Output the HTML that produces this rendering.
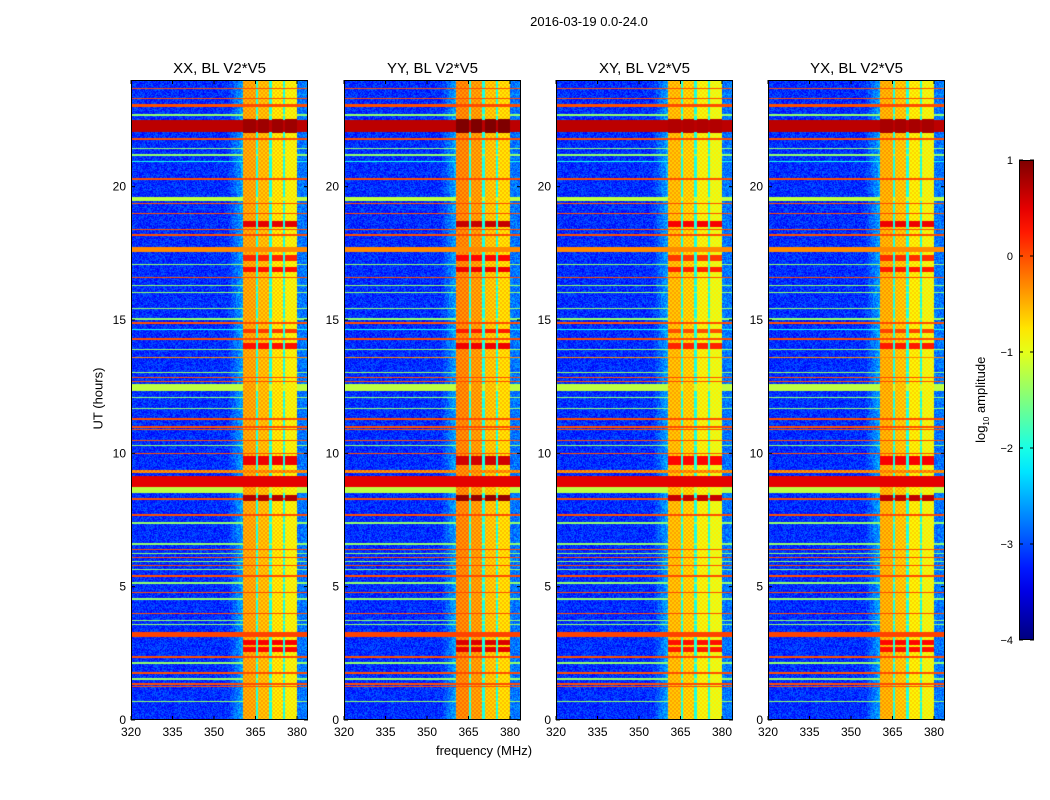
<!DOCTYPE html>
<html><head><meta charset="utf-8">
<style>
body{margin:0;background:#fff;font-family:"Liberation Sans",sans-serif;}
#root{position:relative;width:1050px;height:800px;overflow:hidden;background:#fff;}
canvas{position:absolute;}
.t{position:absolute;color:#000;white-space:nowrap;}
</style></head>
<body>
<div id="root">
<div class="t" style="left:489px;top:14px;width:200px;text-align:center;font-size:13px;">2016-03-19 0.0-24.0</div>
<div class="t" style="left:384px;top:743px;width:200px;text-align:center;font-size:13px;">frequency (MHz)</div>
<div class="t" style="left:48px;top:391px;width:100px;text-align:center;font-size:13px;transform:rotate(-90deg);">UT (hours)</div>
<div class="t" style="left:922px;top:391px;width:120px;text-align:center;font-size:13px;transform:rotate(-90deg);">log<sub style="font-size:8px">10</sub> amplitude</div>
<svg id="svg" width="1050" height="800" style="position:absolute;left:0;top:0;"></svg>
</div>
<script>
// ---- data ----
const panelTitles = ["XX, BL V2*V5","YY, BL V2*V5","XY, BL V2*V5","YX, BL V2*V5"];
const panelLeft = [131,344,556,768];
const panelBlockOffset = [0, 0.15, -0.1, -0.05];
const xTicks = [320,335,350,365,380];
const yTicks = [0,5,10,15,20];
const cbTicks = [1,0,-1,-2,-3,-4];
const backgroundLevel = -3.15;
// column segments: [fStart, fEnd, level]
const colStart = [355, 360.5, 365.2, 366.0, 370.0, 370.8, 375.0, 375.8, 380.0];
const colEnd   = [360.5, 365.2, 366.0, 370.0, 370.8, 375.0, 375.8, 380.0, 384.0];
const colLevel = [-2.6, -0.55, -2.0, -0.65, -2.0, -0.85, -2.0, -0.95, -2.8];
// full-width time bands
const bandStart = [23.65,23.28,23.0,22.65,22.05,21.75,21.4,21.15,20.92,20.25,19.45,19.32,18.95,18.35,18.15,17.55,17.05,16.55,16.25,16.0,15.4,15.0,14.85,14.6,14.25,13.85,13.55,13.0,12.82,12.65,12.35,12.05,11.65,11.25,10.95,10.85,10.45,10.25,9.95,9.25,8.75,8.5,8.25,7.65,7.35,6.55,6.35,6.2,6.05,5.9,5.75,5.6,5.35,5.1,4.75,4.5,3.95,3.7,3.55,3.12,2.32,2.1,1.72,1.5,1.32,1.22,0.67];
const bandEnd   = [23.72,23.35,23.1,22.72,22.5,21.82,21.47,21.22,20.98,20.32,19.62,19.4,19.02,18.42,18.22,17.72,17.12,16.62,16.32,16.07,15.47,15.07,14.92,14.67,14.32,13.92,13.65,13.07,12.88,12.72,12.6,12.12,11.72,11.32,11.02,10.92,10.52,10.32,10.03,9.38,9.15,8.72,8.32,7.72,7.42,6.65,6.42,6.27,6.12,5.97,5.82,5.67,5.45,5.17,4.82,4.57,4.03,3.77,3.62,3.3,2.4,2.17,1.8,1.57,1.38,1.28,0.74];
const bandLevel = [0,0,0,-1.4,0.7,0,-1.4,-1.4,-2.0,0,-1.2,0,0,0,0,-0.3,-1.4,0,-1.4,-1.4,-1.4,-1.4,0,-2.0,0,-1.4,-0.3,-1.4,0,0,-1.2,-1.4,-1.4,0,0,0,0,-1.4,0,-0.4,0.5,-1.2,0,0,-1.4,-1.4,0,-1.4,0,-1.4,0,-1.4,0,-1.4,0,-1.4,0,-1.4,-1.4,0.05,0,-1.4,0,-1.4,0,0,-1.4];
// bands only within the bright block
const blockBandStart = [22.0,18.5,17.2,16.8,13.9,9.55,8.2,2.55,2.82,14.5];
const blockBandEnd   = [22.55,18.72,17.45,17.0,14.15,9.9,8.42,2.75,3.0,14.65];
const blockBandLevel = [0.85,0.5,0.2,0.3,0.3,0.45,0.75,0.35,0.4,0.1];

// ---- helpers ----
const PW=177, PT=80, PH=640, FMIN=320, FMAX=320+60*177/166;
function xScale(f,left){return left+(f-FMIN)/(FMAX-FMIN)*PW;}
function yScale(h){return PT+PH-(h/24)*PH;}
function jet(t){t=Math.max(0,Math.min(1,t));
 const r=Math.max(0,Math.min(1,Math.min(4*t-1.5,-4*t+4.5)));
 const g=Math.max(0,Math.min(1,Math.min(4*t-0.5,-4*t+3.5)));
 const b=Math.max(0,Math.min(1,Math.min(4*t+0.5,-4*t+2.5)));
 return [r*255|0,g*255|0,b*255|0];}
function cmap(v){return jet((v+4)/5);}
function bandHit(h,s,e){ if(e-s<0.1){ const m=(s+e)/2; return h>=m-0.022&&h<m+0.022; } return h>=s&&h<e; }
function valueAt(h,f,p){
 let v=backgroundLevel, inBlock=false;
 for(let i=0;i<colStart.length;i++){ if(f>=colStart[i]&&f<colEnd[i]){
   let c=colLevel[i]; if(c>-1.5){inBlock=true;c+=panelBlockOffset[p];}
   if(i===0) c=backgroundLevel+(f-colStart[0])/(colEnd[0]-colStart[0])*0.6;
   v=Math.max(v,c);} }
 for(let i=0;i<bandStart.length;i++) if(bandHit(h,bandStart[i],bandEnd[i])) v=Math.max(v,bandLevel[i]);
 if(inBlock) for(let i=0;i<blockBandStart.length;i++) if(h>=blockBandStart[i]&&h<blockBandEnd[i]) v=Math.max(v,blockBandLevel[i]+panelBlockOffset[p]);
 return v;}

const root=document.getElementById('root');
const svg=document.getElementById('svg');
const NS='http://www.w3.org/2000/svg';
function add(tag,attrs,parent){const e=document.createElementNS(NS,tag);for(const k in attrs)e.setAttribute(k,attrs[k]);(parent||svg).appendChild(e);return e;}

panelTitles.forEach((title,p)=>{
 const L=panelLeft[p];
 const cv=document.createElement('canvas');
 
 
 cv.width=PW;cv.height=PH;cv.style.left=L+'px';cv.style.top=PT+'px';
 root.insertBefore(cv,svg);
 const ctx=cv.getContext('2d');const img=ctx.createImageData(PW,PH);
 for(let y=0;y<PH;y++){const h=24*(PH-y-0.5)/PH;
  for(let x=0;x<PW;x++){const f=FMIN+(x+0.5)/PW*(FMAX-FMIN);
   let v=valueAt(h,f,p);
   if(v<-2.5){ v+=(((x*7+y*13)^(x*y))%5-2)*0.12; } // speckle texture
   else if(v<-0.3 && v>-1.2){ v+=(((x>>1)+(y>>1))%2)*0.25; } // checker texture in block
   const c=cmap(v);const k=(y*PW+x)*4;
   img.data[k]=c[0];img.data[k+1]=c[1];img.data[k+2]=c[2];img.data[k+3]=255;}}
 ctx.putImageData(img,0,0);
 const g=add('g',{});
 
 
 const fr=add('rect',{x:L+0.5,y:PT+0.5,width:PW-1,height:PH-1,fill:'none',stroke:'#000','stroke-width':1},g);
 
 
 const tt=add('text',{x:L+PW/2,y:73,'text-anchor':'middle','font-size':15,'font-family':'Liberation Sans, sans-serif'},g);
 tt.textContent=title;
 
 
 xTicks.forEach(v=>{const x=xScale(v,L);
  add('line',{x1:x,x2:x,y1:PT+PH,y2:PT+PH-4,stroke:'#000'},g);
  add('line',{x1:x,x2:x,y1:PT,y2:PT+4,stroke:'#000'},g);
  const t=add('text',{x:x,y:PT+PH+16,'text-anchor':'middle','font-size':12,'font-family':'Liberation Sans, sans-serif'},g);
  t.textContent=v;
  
  });
 yTicks.forEach(v=>{const y=yScale(v);
  add('line',{x1:L,x2:L+4,y1:y,y2:y,stroke:'#000'},g);
  add('line',{x1:L+PW,x2:L+PW-4,y1:y,y2:y,stroke:'#000'},g);
  const t=add('text',{x:L-5,y:y+4,'text-anchor':'end','font-size':12,'font-family':'Liberation Sans, sans-serif'},g);
  t.textContent=v;
  
  });
});

// colorbar
const CBX=1019,CBW=15,CBT=160,CBH=480;
const defs=add('defs',{});
const grad=add('linearGradient',{id:'jet',x1:0,y1:1,x2:0,y2:0},defs);
for(let i=0;i<=20;i++){const c=jet(i/20);add('stop',{offset:i/20,'stop-color':`rgb(${c[0]},${c[1]},${c[2]})`},grad);}
const cb=add('rect',{x:CBX+0.5,y:CBT+0.5,width:CBW-1,height:CBH-1,fill:'url(#jet)',stroke:'#000'});


cbTicks.forEach(v=>{const y=CBT+CBH-(v+4)/5*CBH;
 add('line',{x1:CBX,x2:CBX+4,y1:y,y2:y,stroke:'#000'});
 add('line',{x1:CBX+CBW,x2:CBX+CBW-4,y1:y,y2:y,stroke:'#000'});
 const t=add('text',{x:CBX-6,y:y+4,'text-anchor':'end','font-size':11,'font-family':'Liberation Sans, sans-serif'});
 t.textContent=v<0?'\u2212'+(-v):String(v);
 
 });
</script>
</body></html>
